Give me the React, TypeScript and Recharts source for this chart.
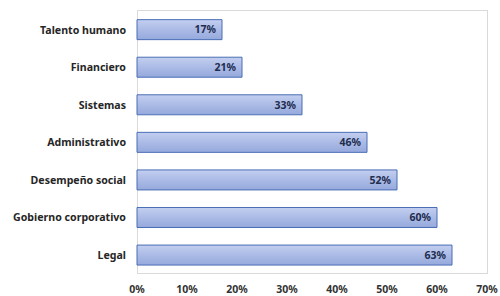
import { BarChart, Bar, XAxis, YAxis, LabelList } from "recharts";

const categories = [
  "Talento humano",
  "Financiero",
  "Sistemas",
  "Administrativo",
  "Desempeño social",
  "Gobierno corporativo",
  "Legal",
];
const values = [17, 21, 33, 46, 52, 60, 63];
const xTicks = [0, 10, 20, 30, 40, 50, 60, 70];

const data = categories.map((name, i) => ({ name, value: values[i] }));

const FONT = "'Noto Sans', sans-serif";

// y-axis tick without wrapping
const CategoryTick = (props: any) => {
  const { x, y, payload } = props;
  return (
    <text
      x={x}
      y={y}
      dy="0.355em"
      textAnchor="end"
      fontSize={10.6}
      fontWeight={700}
      fill="#262626"
      fontFamily={FONT}
    >
      {payload.value}
    </text>
  );
};

export default function App() {
  return (
    <div style={{ position: "absolute", left: 0, top: 0, width: 500, height: 296, background: "#fff" }}>
      <div
        style={{
          position: "absolute",
          left: 137,
          top: 10,
          width: 349,
          height: 262,
          border: "1.5px solid #dadada",
        }}
      />
      <div style={{ position: "absolute", left: 0, top: 0 }}>
        <BarChart
          width={500}
          height={296}
          data={data}
          layout="vertical"
          barCategoryGap="23%"
          margin={{ top: 11, right: 13, left: 0, bottom: 4 }}
        >
          <defs>
            <linearGradient id="barFill" x1="0" y1="0" x2="0" y2="1">
              <stop offset="0%" stopColor="#c3cff0" />
              <stop offset="50%" stopColor="#abbbe6" />
              <stop offset="100%" stopColor="#96a9dc" />
            </linearGradient>
          </defs>
          <XAxis
            type="number"
            domain={[0, 70]}
            ticks={xTicks}
            tickFormatter={(v) => `${v}%`}
            axisLine={false}
            tickLine={false}
            height={18}
            tickMargin={6}
            tick={{ fontSize: 10.5, fontWeight: 700, fill: "#333", fontFamily: FONT }}
            interval={0}
          />
          <YAxis
            type="category"
            dataKey="name"
            width={137}
            axisLine={false}
            tickLine={false}
            tickSize={0}
            tickMargin={11}
            interval={0}
            tick={<CategoryTick />}
          />
          <Bar
            dataKey="value"
            fill="url(#barFill)"
            stroke="#4a6db5"
            strokeWidth={1}
            isAnimationActive={false}
          >
            <LabelList
              dataKey="value"
              position="insideRight"
              offset={6}
              formatter={(v: number) => `${v}%`}
              style={{ fontSize: 10.5, fontWeight: 700, fill: "#1f2d4f", fontFamily: FONT }}
            />
          </Bar>
        </BarChart>
      </div>
    </div>
  );
}
